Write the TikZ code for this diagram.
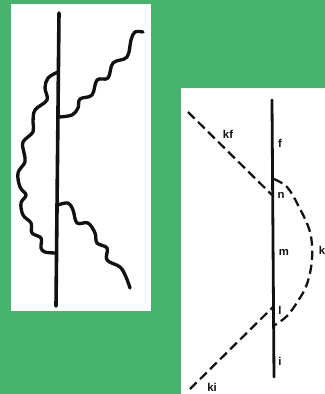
\documentclass[tikz,border=0pt]{standalone}
\usepackage{fontspec}
\setmainfont{Liberation Sans}
\definecolor{bggreen}{HTML}{46B46E}
\definecolor{ink}{HTML}{111111}
\tikzset{
  panel/.style={fill=white,draw=none},
  axis/.style={draw=ink,line width=2.7pt,line cap=round},
  wavy/.style={draw=ink,line width=2.5pt,line cap=round,line join=round},
  axisthin/.style={draw=ink,line width=2.1pt,line cap=round},
  dashline/.style={draw=ink,line width=1.7pt,dash pattern=on 7pt off 3.6pt},
  lab/.style={font=\bfseries\fontsize{8.5}{9}\selectfont,text=ink,inner sep=0pt}
}
\begin{document}
\begin{tikzpicture}[x=0.75pt,y=-0.75pt]
\useasboundingbox (0,0) rectangle (325,394);
\clip (0,0) rectangle (325,394);
\fill[bggreen] (0,0) rectangle (325,394);
\fill[panel] (11,4) rectangle (151,311);
\fill[panel] (181,88) rectangle (325,394);
% left panel
\coordinate (LT) at (59,13);
\coordinate (LB) at (56,306);
\draw[axis] (LT) -- (LB);
\draw[wavy] plot[smooth,tension=0.6] coordinates {(58,72) (48,78) (45,88) (47,100) (35,110) (33,122) (33,132) (23,142) (24,153) (25,162) (18,173) (20,187) (26,195) (21,203) (23,215) (31,223) (32,233) (41,238) (41,248) (45,252) (55,253)};
\draw[wavy] plot[smooth,tension=0.6] coordinates {(59,117) (72,115) (78,108) (80,99) (92,95) (97,80) (108,78) (113,63) (127,57) (131,40) (135,32) (143,32)};
\draw[wavy] plot[smooth,tension=0.6] coordinates {(58,205) (68,203) (73,210) (77,223) (88,223) (95,233) (97,243) (107,248) (107,260) (120,267) (126,277) (130,288)};
% right panel
\coordinate (RT) at (272,100);
\coordinate (RB) at (274,377);
\coordinate (KF) at (188,112);
\coordinate (VN) at (272,195);
\coordinate (KI) at (190,389);
\coordinate (VL) at (273,307);
\draw[axisthin] (RT) -- (RB);
\draw[dashline] (KF) -- (VN);
\draw[dashline] (KI) -- (VL);
\draw[dashline] plot[smooth,tension=0.6] coordinates {(274,179) (287,187) (298,205) (310,232) (312,259) (307,284) (298,301) (287,316) (275,325)};
\node[lab] (kf) at (228,134) {kf};
\node[lab] (f) at (280,143) {f};
\node[lab] (n) at (281,195) {n};
\node[lab] (m) at (284,252) {m};
\node[lab] (k) at (322,250) {k};
\node[lab] (l) at (280,310) {l};
\node[lab] (i) at (280,361) {i};
\node[lab] (ki) at (212,387) {ki};
\end{tikzpicture}
\end{document}
